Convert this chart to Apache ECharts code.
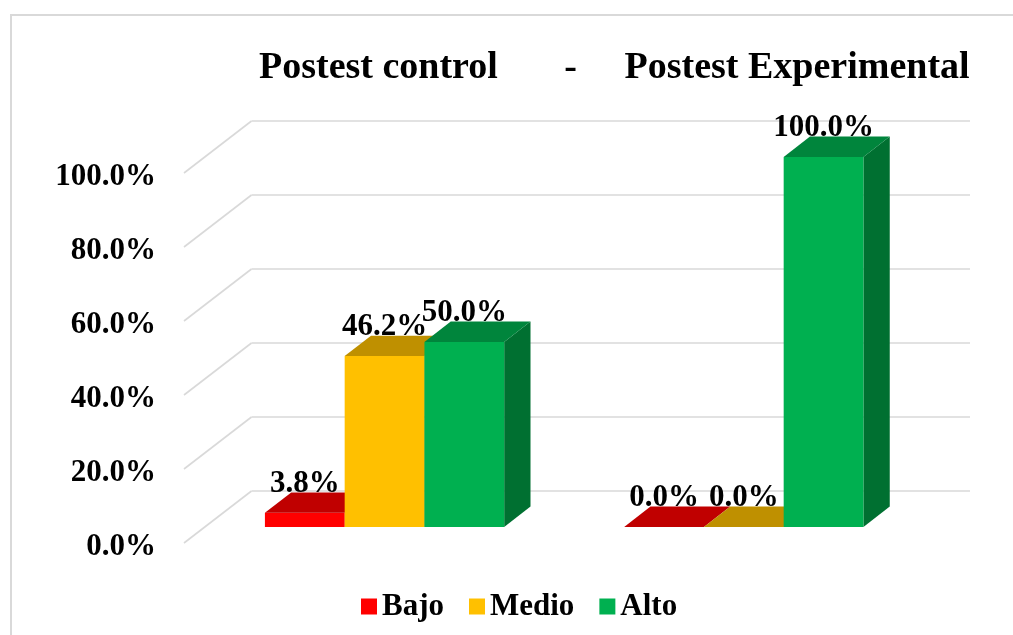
<!DOCTYPE html>
<html>
<head>
<meta charset="utf-8">
<script src="https://cdn.jsdelivr.net/npm/echarts@6/dist/echarts.min.js"></script>
<style>
  html, body { margin: 0; padding: 0; background: #ffffff; }
  #chart { width: 1013px; height: 635px; }
</style>
</head>
<body>
<div id="chart"></div>
<script>
// Groups and levels
const categories = ['Postest control', 'Postest Experimental'];
const levels = ['Bajo', 'Medio', 'Alto'];

// Percent of students per level, one value per group
const bajo = [3.8, 0.0];
const medio = [46.2, 0.0];
const alto = [50.0, 100.0];

// Value axis ticks
const yTicks = [0, 20, 40, 60, 80, 100];

// Face colours: front, top, side
const palette = {
  Bajo:  { front: '#FF0000', top: '#C00000', side: '#A00000' },
  Medio: { front: '#FFC000', top: '#BF9000', side: '#A07800' },
  Alto:  { front: '#00B050', top: '#00853C', side: '#007031' }
};

// Oblique projection of the floor depth (pixels)
const DEPTH_X = 67.5;
const DEPTH_Y = -52;
const BAR_FRONT = 0.31;   // bar front plane as a share of the floor depth
const BAR_BACK = 0.70;    // bar back plane
const BAR_WIDTH = 0.222;  // bar width as a share of the category band

const FONT = "'Liberation Serif', 'Times New Roman', serif";

function pct(v) { return v.toFixed(1) + '%'; }

// Back wall and side wall gridlines
function renderGrid(params, api) {
  const cs = params.coordSys;
  const y = api.coord([0, api.value(1)])[1];
  const style = { stroke: '#d9d9d9', lineWidth: 1.6 };
  return {
    type: 'group',
    children: [
      { type: 'line', shape: { x1: cs.x, y1: y, x2: cs.x + DEPTH_X, y2: y + DEPTH_Y }, style: style },
      { type: 'line', shape: { x1: cs.x + DEPTH_X, y1: y + DEPTH_Y, x2: cs.x + cs.width + DEPTH_X, y2: y + DEPTH_Y }, style: style }
    ]
  };
}

// 3D column: front face, top face, right side face and value label
function makeBarRenderer(levelIndex, colors) {
  return function (params, api) {
    const cat = api.value(0);
    const val = api.value(1);
    const base = api.coord([cat, 0]);
    const yTop = api.coord([cat, val])[1];
    const band = api.size([1, 0])[0];
    const bw = band * BAR_WIDTH;
    const cx = base[0] + (levelIndex - 1) * bw + BAR_FRONT * DEPTH_X;
    const left = cx - bw / 2;
    const right = cx + bw / 2;
    const yb = base[1] + BAR_FRONT * DEPTH_Y;
    const yt = yTop + BAR_FRONT * DEPTH_Y;
    const dx = (BAR_BACK - BAR_FRONT) * DEPTH_X;
    const dy = (BAR_BACK - BAR_FRONT) * DEPTH_Y;
    const children = [];
    if (yb - yt > 0.01) {
      children.push({
        type: 'polygon',
        shape: { points: [[right, yt], [right + dx, yt + dy], [right + dx, yb + dy], [right, yb]] },
        style: { fill: colors.side }
      });
      children.push({
        type: 'rect',
        shape: { x: left, y: yt, width: bw, height: yb - yt },
        style: { fill: colors.front }
      });
    }
    children.push({
      type: 'polygon',
      shape: { points: [[left, yt], [right, yt], [right + dx, yt + dy], [left + dx, yt + dy]] },
      style: { fill: colors.top }
    });
    children.push({
      type: 'text',
      z2: 50,
      style: {
        x: cx,
        y: yt + dy - 9,
        text: pct(val),
        align: 'center',
        verticalAlign: 'middle',
        fill: '#000000',
        font: 'bold 31px ' + FONT
      }
    });
    return { type: 'group', children: children };
  };
}

const levelValues = [bajo, medio, alto];

const barSeries = levels.map(function (name, i) {
  return {
    name: name,
    type: 'custom',
    renderItem: makeBarRenderer(i, palette[name]),
    itemStyle: { color: palette[name].front },
    encode: { x: 0, y: 1 },
    data: levelValues[i].map(function (v, k) { return [k, v]; }),
    z: 3,
    silent: true
  };
});

const chart = echarts.init(document.getElementById('chart'), null, { renderer: 'canvas' });

chart.setOption({
  backgroundColor: '#ffffff',
  animation: false,
  title: {
    text: 'Postest control       -     Postest Experimental',
    left: 259,
    top: 49,
    padding: 0,
    textStyle: { fontFamily: FONT, fontWeight: 'bold', fontSize: 38, color: '#000000' }
  },
  legend: {
    data: levels,
    left: 361,
    top: 591,
    padding: 0,
    icon: 'rect',
    itemWidth: 16,
    itemHeight: 16,
    itemGap: 25,
    textStyle: { fontFamily: FONT, fontWeight: 'bold', fontSize: 31, color: '#000000' }
  },
  graphic: [
    {
      type: 'rect',
      shape: { x: 11, y: 15, width: 1200, height: 800 },
      style: { fill: null, stroke: '#d9d9d9', lineWidth: 2 },
      silent: true
    }
  ],
  grid: { left: 184, right: 110.5, top: 173, bottom: 92 },
  xAxis: {
    type: 'category',
    data: categories,
    boundaryGap: true,
    show: false
  },
  yAxis: {
    type: 'value',
    min: yTicks[0],
    max: yTicks[yTicks.length - 1],
    interval: yTicks[1] - yTicks[0],
    axisLine: { show: false },
    axisTick: { show: false },
    splitLine: { show: false },
    axisLabel: {
      margin: 28,
      formatter: function (v) { return '{v|' + pct(v) + '}'; },
      rich: {
        v: {
          fontFamily: FONT,
          fontWeight: 'bold',
          fontSize: 31,
          color: '#000000',
          padding: [8, 0, 0, 0]
        }
      }
    }
  },
  series: [
    {
      name: 'grid',
      type: 'custom',
      renderItem: renderGrid,
      encode: { x: 0, y: 1 },
      data: yTicks.map(function (t) { return [0, t]; }),
      z: 1,
      silent: true
    }
  ].concat(barSeries)
});
</script>
</body>
</html>
